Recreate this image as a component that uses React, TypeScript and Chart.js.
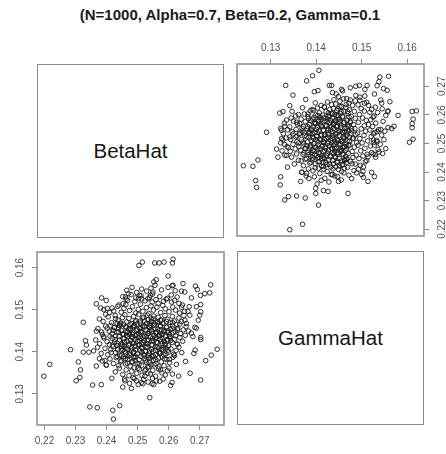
import { useEffect, useRef } from "react";
import { Chart, registerables } from "chart.js";

Chart.register(...registerables);

// Simulated estimates, one entry per replicate (beta and gamma share the index).
const betaHat = [
  0.2198, 0.2217, 0.2284, 0.2332, 0.2335, 0.2325, 0.2343, 0.2309, 0.2377, 0.2367,
  0.2316, 0.2314, 0.2302, 0.2395, 0.2399, 0.2355, 0.2383, 0.2346, 0.2370, 0.2420,
  0.2442, 0.2422, 0.2417, 0.2452, 0.2539, 0.2703, 0.2669, 0.2719, 0.2737, 0.2756,
  0.2703, 0.2685, 0.2681, 0.2654, 0.2632, 0.2606, 0.2611, 0.2612, 0.2596, 0.2582,
  0.2574, 0.2560, 0.2552, 0.2546, 0.2523, 0.2533, 0.2512, 0.2517, 0.2485, 0.2496,
  0.2480, 0.2458, 0.2515, 0.2504, 0.2555, 0.2569, 0.2585, 0.2614, 0.2612, 0.2598,
  0.2560, 0.2552, 0.2614, 0.2646, 0.2686, 0.2692, 0.2735, 0.2732, 0.2716, 0.2702,
  0.2673, 0.2652, 0.2641, 0.2543, 0.2549, 0.2541, 0.2533, 0.2494, 0.2506, 0.2512,
  0.2689, 0.2703, 0.2703, 0.2700, 0.2666, 0.2662, 0.2668, 0.2695, 0.2684, 0.2689,
  0.2652, 0.2657, 0.2673, 0.2678, 0.2703, 0.2633, 0.2641, 0.2592, 0.2609, 0.2325,
  0.2377, 0.2367, 0.2367, 0.2384, 0.2399, 0.2381, 0.2391, 0.2402, 0.2418, 0.2440,
  0.2453, 0.2463, 0.2470, 0.2461, 0.2402, 0.2413, 0.2424, 0.2386, 0.2391, 0.2429,
  0.2434, 0.2397, 0.2410,
  0.2452, 0.2468, 0.2479, 0.2491, 0.2503, 0.2511, 0.2524, 0.2538, 0.2547, 0.2559,
  0.2571, 0.2583, 0.2596, 0.2608, 0.2619, 0.2627, 0.2548, 0.2566,
  0.2423, 0.2436, 0.2447, 0.2456, 0.2462, 0.2474, 0.2483, 0.2494, 0.2502, 0.2509,
  0.2517, 0.2528, 0.2536, 0.2543, 0.2551, 0.2562, 0.2574, 0.2581, 0.2589, 0.2601,
  0.2613, 0.2622, 0.2635, 0.2644, 0.2651,
  0.2389, 0.2405, 0.2416, 0.2428, 0.2437, 0.2444, 0.2451, 0.2459, 0.2465, 0.2472,
  0.2481, 0.2487, 0.2495, 0.2503, 0.2509, 0.2516, 0.2522, 0.2531, 0.2538, 0.2544,
  0.2552, 0.2558, 0.2566, 0.2573, 0.2581, 0.2588, 0.2595, 0.2604, 0.2612, 0.2618,
  0.2626, 0.2633, 0.2641, 0.2649,
  0.2372, 0.2384, 0.2397, 0.2409, 0.2418, 0.2426, 0.2433, 0.2441, 0.2447, 0.2455,
  0.2461, 0.2468, 0.2476, 0.2483, 0.2489, 0.2496, 0.2503, 0.2508, 0.2514, 0.2521,
  0.2527, 0.2534, 0.2539, 0.2546, 0.2553, 0.2559, 0.2565, 0.2572, 0.2578, 0.2585,
  0.2592, 0.2598, 0.2605, 0.2613, 0.2621, 0.2629, 0.2638, 0.2647, 0.2656, 0.2664,
  0.2365, 0.2378, 0.2391, 0.2402, 0.2411, 0.2419, 0.2427, 0.2434, 0.2440, 0.2446,
  0.2453, 0.2458, 0.2464, 0.2471, 0.2477, 0.2483, 0.2488, 0.2494, 0.2499, 0.2505,
  0.2511, 0.2517, 0.2522, 0.2529, 0.2534, 0.2541, 0.2547, 0.2552, 0.2558, 0.2563,
  0.2569, 0.2576, 0.2582, 0.2589, 0.2596, 0.2603, 0.2611, 0.2619, 0.2627, 0.2636,
  0.2645, 0.2653,
  0.2358, 0.2371, 0.2383, 0.2395, 0.2404, 0.2413, 0.2421, 0.2429, 0.2436, 0.2443,
  0.2449, 0.2456, 0.2462, 0.2469, 0.2475, 0.2481, 0.2487, 0.2493, 0.2499, 0.2506,
  0.2512, 0.2518, 0.2525, 0.2531, 0.2537, 0.2544, 0.2550, 0.2557, 0.2563, 0.2570,
  0.2577, 0.2584, 0.2591, 0.2599, 0.2607, 0.2616, 0.2624, 0.2633, 0.2642,
  0.2386, 0.2399, 0.2411, 0.2422, 0.2431, 0.2439, 0.2447, 0.2454, 0.2461, 0.2468,
  0.2476, 0.2483, 0.2491, 0.2498, 0.2505, 0.2513, 0.2521, 0.2528, 0.2536, 0.2543,
  0.2551, 0.2559, 0.2567, 0.2576, 0.2585, 0.2594, 0.2603, 0.2614, 0.2625,
  0.2428, 0.2441, 0.2452, 0.2463, 0.2472, 0.2481, 0.2489, 0.2497, 0.2506, 0.2514,
  0.2523, 0.2532, 0.2541, 0.2549, 0.2558, 0.2567, 0.2578, 0.2589, 0.2601,
  0.2459, 0.2474, 0.2489, 0.2502, 0.2519, 0.2534, 0.2548, 0.2571,
  0.2465, 0.2482, 0.2497, 0.2513, 0.2529, 0.2556, 0.2577, 0.2598, 0.2621, 0.2611,
  0.2447, 0.2512, 0.2538, 0.2461, 0.2579, 0.2493, 0.2524, 0.2556, 0.2438, 0.2602,
  0.2486, 0.2531, 0.2469, 0.2547, 0.2593, 0.2501, 0.2574, 0.2455, 0.2519, 0.2628,
  0.2483, 0.2566, 0.2409, 0.2542, 0.2497, 0.2587, 0.2473, 0.2515, 0.2559, 0.2434,
  0.2611, 0.2526, 0.2478, 0.2551, 0.2492, 0.2569, 0.2442, 0.2533, 0.2506, 0.2584,
  0.2463, 0.2545, 0.2598, 0.2421, 0.2488, 0.2557, 0.2511, 0.2636, 0.2467, 0.2529,
  0.2573, 0.2452, 0.2504, 0.2562, 0.2481, 0.2619, 0.2537, 0.2415, 0.2595, 0.2523,
  0.2474, 0.2548, 0.2499, 0.2582, 0.2458, 0.2535, 0.2607, 0.2487, 0.2564, 0.2441,
  0.2518, 0.2576, 0.2495, 0.2553, 0.2429, 0.2615, 0.2508, 0.2466, 0.2543, 0.2589,
  0.2476, 0.2527, 0.2561, 0.2449, 0.2603, 0.2514, 0.2571, 0.2484, 0.2539, 0.2457,
  0.2521, 0.2594, 0.2436, 0.2549, 0.2502, 0.2579, 0.2471, 0.2532, 0.2622, 0.2489,
  0.2555, 0.2445, 0.2516, 0.2586, 0.2462, 0.2541, 0.2509, 0.2568, 0.2426, 0.2599,
  0.2479, 0.2534, 0.2574, 0.2494, 0.2451, 0.2528, 0.2612, 0.2559, 0.2485, 0.2546,
  0.2439, 0.2505, 0.2581, 0.2468, 0.2522, 0.2591, 0.2498, 0.2552, 0.2433, 0.2577,
  0.2513, 0.2463, 0.2537, 0.2605, 0.2482, 0.2544, 0.2418, 0.2569, 0.2507, 0.2453,
  0.2629, 0.2525, 0.2583, 0.2491, 0.2558, 0.2474, 0.2536, 0.2597, 0.2446,
];

const gammaHat = [
  0.1342, 0.1370, 0.1405, 0.1426, 0.1416, 0.1399, 0.1399, 0.1376, 0.1384, 0.1366,
  0.1357, 0.1339, 0.1331, 0.1379, 0.1368, 0.1321, 0.1322, 0.1269, 0.1267, 0.1261,
  0.1272, 0.1240, 0.1337, 0.1316, 0.1291, 0.1333, 0.1349, 0.1379, 0.1392, 0.1406,
  0.1429, 0.1404, 0.1396, 0.1377, 0.1342, 0.1320, 0.1327, 0.1347, 0.1355, 0.1335,
  0.1357, 0.1331, 0.1322, 0.1324, 0.1342, 0.1349, 0.1327, 0.1324, 0.1339, 0.1331,
  0.1313, 0.1335, 0.1613, 0.1605, 0.1611, 0.1611, 0.1613, 0.1620, 0.1611, 0.1580,
  0.1571, 0.1566, 0.1558, 0.1562, 0.1556, 0.1548, 0.1559, 0.1540, 0.1538, 0.1534,
  0.1528, 0.1542, 0.1544, 0.1551, 0.1542, 0.1534, 0.1526, 0.1528, 0.1534, 0.1526,
  0.1507, 0.1512, 0.1495, 0.1487, 0.1507, 0.1496, 0.1487, 0.1475, 0.1458, 0.1456,
  0.1475, 0.1467, 0.1444, 0.1436, 0.1434, 0.1515, 0.1506, 0.1525, 0.1518, 0.1470,
  0.1478, 0.1449, 0.1514, 0.1528, 0.1522, 0.1504, 0.1500, 0.1503, 0.1504, 0.1511,
  0.1514, 0.1525, 0.1538, 0.1530, 0.1456, 0.1462, 0.1457, 0.1441, 0.1436, 0.1479,
  0.1467, 0.1489, 0.1493,
  0.1531, 0.1522, 0.1536, 0.1519, 0.1527, 0.1533, 0.1521, 0.1529, 0.1518, 0.1524,
  0.1531, 0.1520, 0.1527, 0.1535, 0.1522, 0.1530, 0.1537, 0.1515,
  0.1497, 0.1508, 0.1494, 0.1503, 0.1512, 0.1498, 0.1507, 0.1492, 0.1501, 0.1513,
  0.1496, 0.1505, 0.1491, 0.1509, 0.1499, 0.1506, 0.1493, 0.1510, 0.1502, 0.1495,
  0.1506, 0.1499, 0.1492, 0.1511, 0.1496,
  0.1472, 0.1483, 0.1469, 0.1486, 0.1475, 0.1466, 0.1481, 0.1488, 0.1471, 0.1479,
  0.1467, 0.1484, 0.1474, 0.1489, 0.1468, 0.1480, 0.1473, 0.1487, 0.1466, 0.1478,
  0.1485, 0.1470, 0.1482, 0.1475, 0.1468, 0.1486, 0.1477, 0.1470, 0.1484, 0.1473,
  0.1465, 0.1480, 0.1472, 0.1486,
  0.1455, 0.1447, 0.1461, 0.1449, 0.1443, 0.1458, 0.1446, 0.1463, 0.1451, 0.1442,
  0.1459, 0.1448, 0.1455, 0.1441, 0.1462, 0.1450, 0.1444, 0.1457, 0.1447, 0.1461,
  0.1452, 0.1443, 0.1458, 0.1449, 0.1463, 0.1445, 0.1454, 0.1460, 0.1442, 0.1451,
  0.1458, 0.1446, 0.1453, 0.1461, 0.1448, 0.1456, 0.1443, 0.1452, 0.1460, 0.1449,
  0.1428, 0.1419, 0.1433, 0.1424, 0.1437, 0.1416, 0.1429, 0.1421, 0.1436, 0.1418,
  0.1431, 0.1423, 0.1439, 0.1415, 0.1427, 0.1434, 0.1420, 0.1438, 0.1425, 0.1417,
  0.1432, 0.1422, 0.1437, 0.1419, 0.1428, 0.1435, 0.1416, 0.1426, 0.1433, 0.1421,
  0.1438, 0.1424, 0.1431, 0.1417, 0.1429, 0.1436, 0.1422, 0.1430, 0.1418, 0.1434,
  0.1425, 0.1439,
  0.1402, 0.1411, 0.1396, 0.1408, 0.1393, 0.1405, 0.1412, 0.1398, 0.1407, 0.1391,
  0.1403, 0.1413, 0.1397, 0.1406, 0.1392, 0.1409, 0.1400, 0.1414, 0.1395, 0.1404,
  0.1410, 0.1394, 0.1401, 0.1412, 0.1397, 0.1406, 0.1390, 0.1403, 0.1411, 0.1396,
  0.1405, 0.1393, 0.1409, 0.1399, 0.1407, 0.1394, 0.1403, 0.1411, 0.1398,
  0.1378, 0.1369, 0.1383, 0.1372, 0.1386, 0.1367, 0.1379, 0.1388, 0.1371, 0.1382,
  0.1366, 0.1377, 0.1387, 0.1373, 0.1381, 0.1368, 0.1384, 0.1375, 0.1386, 0.1369,
  0.1380, 0.1372, 0.1385, 0.1376, 0.1367, 0.1382, 0.1374, 0.1387, 0.1370,
  0.1352, 0.1361, 0.1346, 0.1357, 0.1343, 0.1354, 0.1362, 0.1349, 0.1358, 0.1344,
  0.1355, 0.1363, 0.1347, 0.1356, 0.1342, 0.1359, 0.1350, 0.1345, 0.1361,
  0.1331, 0.1325, 0.1336, 0.1322, 0.1334, 0.1328, 0.1337, 0.1330,
  0.1546, 0.1553, 0.1541, 0.1549, 0.1544, 0.1558, 0.1547, 0.1553, 0.1545, 0.1557,
  0.1413, 0.1446, 0.1402, 0.1384, 0.1419, 0.1471, 0.1379, 0.1454, 0.1447, 0.1441,
  0.1398, 0.1426, 0.1436, 0.1389, 0.1472, 0.1361, 0.1397, 0.1465, 0.1482, 0.1418,
  0.1421, 0.1437, 0.1417, 0.1463, 0.1441, 0.1383, 0.1395, 0.1408, 0.1412, 0.1389,
  0.1455, 0.1358, 0.1452, 0.1478, 0.1379, 0.1364, 0.1428, 0.1443, 0.1427, 0.1448,
  0.1408, 0.1416, 0.1404, 0.1451, 0.1462, 0.1393, 0.1389, 0.1466, 0.1373, 0.1468,
  0.1429, 0.1442, 0.1416, 0.1447, 0.1436, 0.1391, 0.1374, 0.1398, 0.1426, 0.1459,
  0.1419, 0.1432, 0.1453, 0.1406, 0.1401, 0.1391, 0.1427, 0.1387, 0.1471, 0.1462,
  0.1435, 0.1452, 0.1404, 0.1369, 0.1438, 0.1445, 0.1473, 0.1425, 0.1452, 0.1436,
  0.1465, 0.1411, 0.1423, 0.1392, 0.1382, 0.1399, 0.1441, 0.1445, 0.1459, 0.1431,
  0.1392, 0.1459, 0.1404, 0.1401, 0.1434, 0.1388, 0.1454, 0.1419, 0.1438, 0.1413,
  0.1466, 0.1376, 0.1461, 0.1424, 0.1447, 0.1385, 0.1448, 0.1409, 0.1423, 0.1414,
  0.1403, 0.1476, 0.1462, 0.1389, 0.1417, 0.1437, 0.1469, 0.1381, 0.1459, 0.1426,
  0.1456, 0.1371, 0.1443, 0.1389, 0.1426, 0.1395, 0.1466, 0.1438, 0.1415, 0.1475,
  0.1418, 0.1459, 0.1448, 0.1434, 0.1375, 0.1472, 0.1432, 0.1399, 0.1455, 0.1405,
  0.1452, 0.1401, 0.1411, 0.1429, 0.1445, 0.1441, 0.1364, 0.1449, 0.1468,
];

const betaTicks = [0.22, 0.23, 0.24, 0.25, 0.26, 0.27];
const gammaTicks = [0.13, 0.14, 0.15, 0.16];
const betaLimits = [0.2176, 0.2778];
const gammaLimits = [0.1226, 0.1637];

const TITLE = "(N=1000, Alpha=0.7, Beta=0.2, Gamma=0.1";
const FONT = "'Liberation Sans', Arial, Helvetica, sans-serif";
const FRAME = "#8a8a8a";

// Box around each scatter panel, like R's pairs() frame.
const panelFrame = {
  id: "panelFrame",
  afterDatasetsDraw(chart: any) {
    const { ctx, chartArea: a } = chart;
    ctx.save();
    ctx.strokeStyle = FRAME;
    ctx.lineWidth = 1.5;
    ctx.strokeRect(a.left, a.top, a.right - a.left, a.bottom - a.top);
    ctx.restore();
  },
};

function axis(position: string, limits: number[], ticks: number[], thickness: number, vertical: boolean, pad: number) {
  return {
    type: "linear",
    position,
    min: limits[0],
    max: limits[1],
    afterBuildTicks: (scale: any) => {
      scale.ticks = ticks.map((value) => ({ value }));
    },
    afterFit: (scale: any) => {
      if (vertical) scale.width = thickness;
      else scale.height = thickness;
    },
    border: { display: false },
    grid: { drawOnChartArea: false, drawTicks: true, tickLength: 5, color: "#8a8a8a", lineWidth: 1 },
    ticks: {
      autoSkip: false,
      color: "#505050",
      font: { family: FONT, size: 10 },
      padding: pad,
      minRotation: vertical ? 90 : 0,
      maxRotation: vertical ? 90 : 0,
      crossAlign: vertical ? "center" : "near",
      callback: (value: any) => Number(value).toFixed(2),
    },
  };
}

function scatter(canvas: HTMLCanvasElement, xs: number[], ys: number[], xAxis: any, yAxis: any, padding: any) {
  return new Chart(canvas, {
    type: "scatter",
    data: {
      datasets: [
        {
          data: xs.map((x, i) => ({ x, y: ys[i] })),
          pointStyle: "circle",
          pointRadius: 2.3,
          borderWidth: 1,
          borderColor: "rgba(25,25,25,0.9)",
          backgroundColor: "rgba(0,0,0,0)",
        },
      ],
    },
    options: {
      animation: false,
      responsive: false,
      devicePixelRatio: 1,
      events: [],
      layout: { padding },
      plugins: { legend: { display: false }, tooltip: { enabled: false } },
      scales: { x: xAxis, y: yAxis },
    } as any,
    plugins: [panelFrame],
  });
}

const labelPanel = (left: number, top: number, text: string) => (
  <div
    style={{
      position: "absolute",
      left,
      top,
      width: 187,
      height: 174,
      boxSizing: "border-box",
      border: `1.5px solid ${FRAME}`,
      display: "flex",
      alignItems: "center",
      justifyContent: "center",
      font: `20.5px ${FONT}`,
      color: "#151515",
    }}
  >
    {text}
  </div>
);

export default function App() {
  const lowerRef = useRef<HTMLCanvasElement>(null);
  const upperRef = useRef<HTMLCanvasElement>(null);

  useEffect(() => {
    // lower-left: BetaHat across, GammaHat up
    const lower = scatter(
      lowerRef.current!,
      betaHat,
      gammaHat,
      axis("bottom", betaLimits, betaTicks, 29, false, 5),
      axis("left", gammaLimits, gammaTicks, 37, true, 2),
      { top: 7, right: 10, bottom: 0, left: 0 }
    );
    // upper-right: GammaHat across, BetaHat up
    const upper = scatter(
      upperRef.current!,
      gammaHat,
      betaHat,
      axis("top", gammaLimits, gammaTicks, 39, false, 5),
      axis("right", betaLimits, betaTicks, 22, true, 4),
      { top: 0, right: 0, bottom: 8, left: 9 }
    );
    return () => {
      lower.destroy();
      upper.destroy();
    };
  }, []);

  return (
    <div style={{ position: "fixed", left: 0, top: 0, width: 446, height: 454, background: "#fff", overflow: "hidden" }}>
      <div
        style={{
          position: "absolute",
          left: 14,
          top: 7,
          width: 432,
          textAlign: "center",
          font: `bold 15px ${FONT}`,
          lineHeight: "15px",
          color: "#1a1a1a",
          whiteSpace: "nowrap",
        }}
      >
        {TITLE}
      </div>
      {labelPanel(37, 64, "BetaHat")}
      {labelPanel(237, 251, "GammaHat")}
      <canvas ref={upperRef} width={218} height={221} style={{ position: "absolute", left: 228, top: 25 }} />
      <canvas ref={lowerRef} width={234} height={210} style={{ position: "absolute", left: 0, top: 244 }} />
    </div>
  );
}
